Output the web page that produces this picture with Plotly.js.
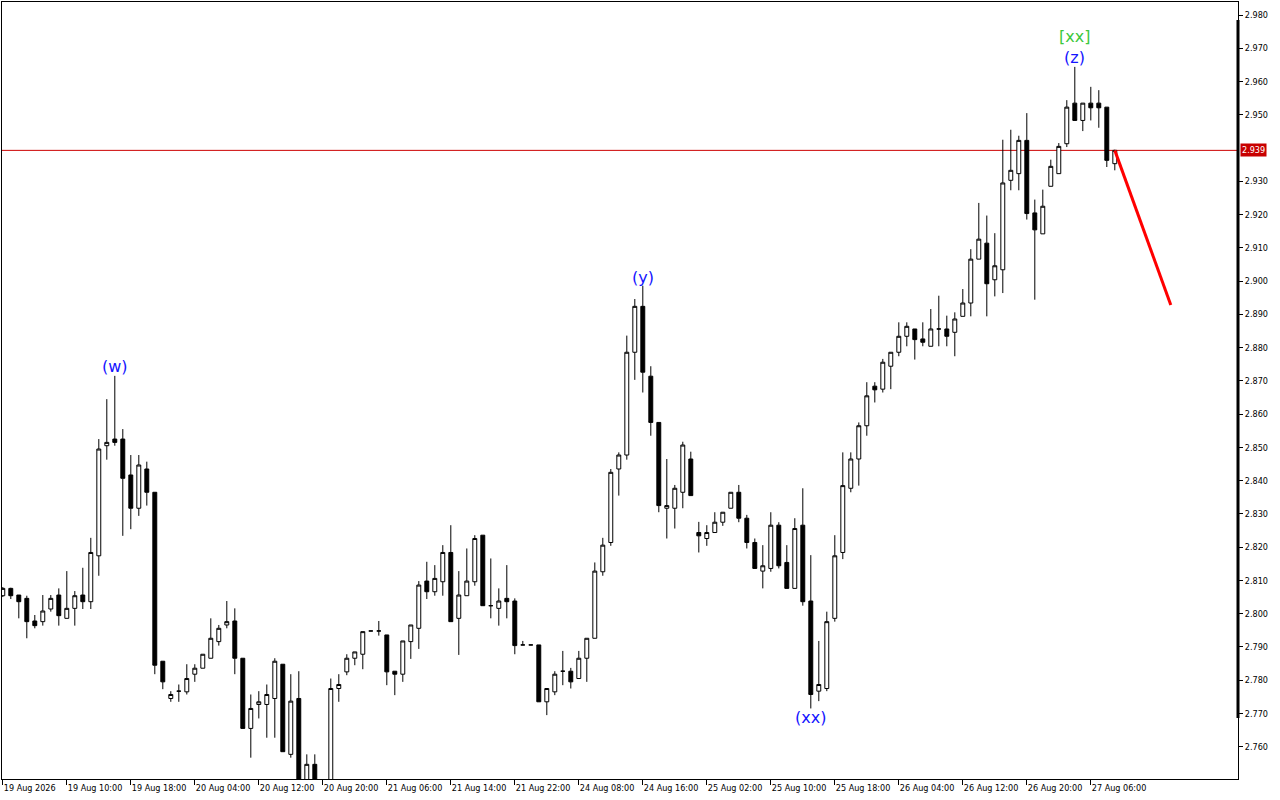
<!DOCTYPE html>
<html>
<head>
<meta charset="utf-8">
<script src="https://cdn.plot.ly/plotly-3.0.1.min.js"></script>
<style>
html,body{margin:0;padding:0;background:#fff;}
#chart{width:1280px;height:800px;}
</style>
</head>
<body>
<div id="chart"></div>
<script>
const openP = [2.8054,2.8076,2.8056,2.8046,2.7978,2.7976,2.8014,2.8056,2.7986,2.8016,
2.8056,2.8036,2.8174,2.8505,2.8525,2.8525,2.8417,2.8317,2.8435,2.8365,
2.7857,2.7745,2.7767,2.7765,2.7818,2.7836,2.7866,2.7916,2.7966,2.7978,
2.7866,2.7655,2.7727,2.7727,2.7745,2.7848,2.7577,2.7745,2.7490,2.7547,
2.7495,2.7480,2.7775,2.7825,2.7866,2.7878,2.7948,2.7948,2.7936,2.7827,
2.7818,2.7916,2.7956,2.8098,2.8066,2.8096,2.8184,2.7986,2.8054,2.8096,
2.8236,2.8024,2.8016,2.8046,2.8038,2.7906,2.7906,2.7906,2.7735,2.7765,
2.7827,2.7827,2.7805,2.7866,2.7926,2.8126,2.8214,2.8435,2.8477,2.8786,
2.8924,2.8714,2.8575,2.8317,2.8317,2.8365,2.8465,2.8244,2.8226,2.8244,
2.8275,2.8317,2.8365,2.8287,2.8214,2.8128,2.8136,2.8266,2.8154,2.8076,
2.8266,2.8038,2.7767,2.7775,2.7986,2.8184,2.8377,2.8465,2.8565,2.8684,
2.8675,2.8744,2.8786,2.8834,2.8856,2.8826,2.8804,2.8856,2.8856,2.8846,
2.8894,2.8934,2.9066,2.9114,2.9004,2.9034,2.9303,2.9323,2.9423,2.9205,
2.9142,2.9285,2.9323,2.9413,2.9535,2.9483,2.9535,2.9535,2.9523,2.9353];
const highP = [2.8080,2.8078,2.8056,2.8054,2.7996,2.8056,2.8056,2.8076,2.8128,2.8068,
2.8138,2.8228,2.8525,2.8645,2.8715,2.8555,2.8477,2.8477,2.8457,2.8365,
2.7857,2.7767,2.7787,2.7848,2.7848,2.7878,2.7986,2.7966,2.8038,2.8016,
2.7866,2.7757,2.7767,2.7787,2.7866,2.7848,2.7818,2.7827,2.7577,2.7577,
2.7500,2.7805,2.7818,2.7878,2.7885,2.7946,2.7948,2.7978,2.7936,2.7827,
2.7918,2.7966,2.8098,2.8156,2.8146,2.8206,2.8266,2.8128,2.8196,2.8236,
2.8236,2.8166,2.8076,2.8146,2.8046,2.7918,2.7906,2.7906,2.7775,2.7827,
2.7888,2.7837,2.7888,2.7926,2.8154,2.8228,2.8435,2.8485,2.8836,2.8946,
2.8986,2.8744,2.8575,2.8465,2.8387,2.8517,2.8487,2.8276,2.8266,2.8305,
2.8305,2.8365,2.8387,2.8297,2.8226,2.8206,2.8305,2.8275,2.8206,2.8287,
2.8377,2.8176,2.7918,2.8006,2.8236,2.8485,2.8485,2.8575,2.8696,2.8696,
2.8766,2.8786,2.8876,2.8876,2.8856,2.8876,2.8916,2.8956,2.8896,2.8906,
2.8976,2.9096,2.9235,2.9197,2.9144,2.9425,2.9455,2.9437,2.9505,2.9245,
2.9275,2.9365,2.9415,2.9544,2.9644,2.9535,2.9584,2.9574,2.9523,2.9395];
const lowP = [2.8050,2.8044,2.7986,2.7926,2.7956,2.7964,2.8006,2.7964,2.7986,2.7964,
2.8014,2.8014,2.8114,2.8463,2.8505,2.8234,2.8254,2.8294,2.8325,2.7818,
2.7773,2.7735,2.7735,2.7757,2.7795,2.7836,2.7866,2.7904,2.7956,2.7818,
2.7655,2.7567,2.7685,2.7627,2.7627,2.7585,2.7567,2.7470,2.7480,2.7475,
2.7465,2.7470,2.7735,2.7815,2.7845,2.7833,2.7948,2.7934,2.7785,2.7755,
2.7795,2.7864,2.7894,2.8044,2.8054,2.8054,2.7976,2.7876,2.8054,2.8084,
2.8024,2.7986,2.7964,2.7986,2.7878,2.7906,2.7906,2.7735,2.7695,2.7755,
2.7785,2.7775,2.7805,2.7795,2.7926,2.8114,2.8204,2.8355,2.8463,2.8703,
2.8665,2.8535,2.8305,2.8226,2.8256,2.8317,2.8355,2.8184,2.8204,2.8244,
2.8264,2.8317,2.8275,2.8196,2.8136,2.8076,2.8126,2.8136,2.8076,2.8076,
2.8024,2.7715,2.7737,2.7767,2.7976,2.8164,2.8365,2.8385,2.8535,2.8635,
2.8665,2.8675,2.8774,2.8804,2.8764,2.8804,2.8804,2.8804,2.8804,2.8774,
2.8894,2.8894,2.9066,2.8894,2.8954,2.8964,2.9273,2.9273,2.9185,2.8944,
2.9142,2.9285,2.9323,2.9403,2.9483,2.9451,2.9483,2.9461,2.9343,2.9333];
const closeP = [2.8076,2.8054,2.8036,2.7976,2.7964,2.8008,2.8046,2.7994,2.8016,2.8054,
2.8036,2.8184,2.8495,2.8515,2.8515,2.8407,2.8317,2.8447,2.8365,2.7845,
2.7795,2.7757,2.7767,2.7805,2.7836,2.7878,2.7926,2.7956,2.7976,2.7866,
2.7655,2.7715,2.7735,2.7757,2.7857,2.7585,2.7737,2.7480,2.7547,2.7490,
2.7475,2.7775,2.7787,2.7866,2.7885,2.7946,2.7948,2.7948,2.7825,2.7818,
2.7918,2.7966,2.8086,2.8066,2.8106,2.8184,2.7976,2.8056,2.8098,2.8226,
2.8024,2.8024,2.8038,2.8036,2.7904,2.7906,2.7906,2.7735,2.7775,2.7818,
2.7827,2.7795,2.7866,2.7926,2.8128,2.8206,2.8425,2.8477,2.8786,2.8924,
2.8726,2.8575,2.8325,2.8325,2.8377,2.8507,2.8355,2.8234,2.8244,2.8275,
2.8305,2.8365,2.8287,2.8214,2.8136,2.8144,2.8266,2.8144,2.8076,2.8256,
2.8036,2.7757,2.7787,2.7976,2.8174,2.8385,2.8465,2.8565,2.8655,2.8673,
2.8756,2.8786,2.8834,2.8864,2.8824,2.8816,2.8856,2.8856,2.8834,2.8886,
2.8934,2.9066,2.9126,2.8992,2.9046,2.9295,2.9333,2.9423,2.9203,2.9154,
2.9225,2.9345,2.9405,2.9523,2.9483,2.9535,2.9521,2.9521,2.9363,2.9393];

const xTickIdx = [0,8,16,24,32,40,48,56,64,72,80,88,96,104,112,120,128,136];
const xTickText = ["19 Aug 2026","19 Aug 10:00","19 Aug 18:00","20 Aug 04:00","20 Aug 12:00",
"20 Aug 20:00","21 Aug 06:00","21 Aug 14:00","21 Aug 22:00","24 Aug 08:00","24 Aug 16:00",
"25 Aug 02:00","25 Aug 10:00","25 Aug 18:00","26 Aug 04:00","26 Aug 12:00","26 Aug 20:00","27 Aug 06:00"];
const yTickVals = [2.76,2.77,2.78,2.79,2.80,2.81,2.82,2.83,2.84,2.85,2.86,2.87,2.88,2.89,2.90,2.91,2.92,2.93,2.95,2.96,2.97,2.98];

const currentPrice = 2.9393;
const forecastX = [139, 146];
const forecastY = [2.9393, 2.8928];

const waveLabels = ["(w)", "(y)", "(xx)", "(z)", "[xx]"];
const waveIdx = [14, 80, 101, 134, 134];
const waveY = [2.8742, 2.9012, 2.7689, 2.9671, 2.9734];
const waveColors = ["#1414ff", "#1414ff", "#1414ff", "#1414ff", "#3cc83c"];

const idx = openP.map((_, i) => i);

const traces = [{
  type: 'candlestick',
  x: idx, open: openP, high: highP, low: lowP, close: closeP,
  increasing: {line: {color: '#000000', width: 1}, fillcolor: '#ffffff'},
  decreasing: {line: {color: '#000000', width: 1}, fillcolor: '#000000'},
  whiskerwidth: 0,
  hoverinfo: 'skip',
  showlegend: false
}, {
  type: 'scatter', mode: 'lines',
  x: forecastX, y: forecastY,
  line: {color: '#ff0000', width: 3},
  hoverinfo: 'skip', showlegend: false
}];

const fnt = {family: '"DejaVu Sans Condensed", "DejaVu Sans", sans-serif', size: 9, color: '#000000'};

const annotations = waveLabels.map((t, k) => ({
  x: waveIdx[k], y: waveY[k], xref: 'x', yref: 'y', text: t, showarrow: false,
  xanchor: 'center', yanchor: 'middle',
  font: {family: '"DejaVu Sans", sans-serif', size: 16, color: waveColors[k]}
}));
annotations.push({
  x: 1.0016, xref: 'paper', y: currentPrice, yref: 'y', text: currentPrice.toFixed(3),
  showarrow: false, xanchor: 'left', yanchor: 'middle', bgcolor: '#c80000',
  borderpad: 1, font: {family: fnt.family, size: 9, color: '#ffffff'}
});

const layout = {
  width: 1280, height: 800,
  margin: {l: 2, r: 42, t: 2, b: 21},
  paper_bgcolor: '#ffffff', plot_bgcolor: '#ffffff',
  showlegend: false,
  xaxis: {
    type: 'linear', range: [-0.1, 154.4],
    tickvals: xTickIdx, ticktext: xTickText,
    ticks: 'outside', ticklen: 5, tickcolor: '#000000', tickwidth: 1,
    ticklabelposition: 'outside right',
    showline: true, mirror: true, linecolor: '#000000', linewidth: 1,
    showgrid: false, zeroline: false, tickfont: fnt,
    rangeslider: {visible: false}, fixedrange: true
  },
  yaxis: {
    side: 'right', range: [2.75029, 2.98391],
    tickvals: yTickVals, tickformat: '.3f',
    ticks: 'outside', ticklen: 4, tickcolor: '#000000', tickwidth: 1,
    showline: true, mirror: true, linecolor: '#000000', linewidth: 1,
    showgrid: false, zeroline: false, tickfont: fnt, fixedrange: true
  },
  shapes: [{
    type: 'line', xref: 'paper', x0: 0, x1: 1, yref: 'y', y0: currentPrice, y1: currentPrice,
    line: {color: '#cc0000', width: 1}, layer: 'below'
  }, {
    type: 'line', xref: 'paper', yref: 'paper',
    x0: 1.0, x1: 1.0, y0: 0.07851, y1: 0.97683,
    line: {color: '#000000', width: 3}, layer: 'above'
  }],
  annotations: annotations
};

Plotly.newPlot('chart', traces, layout, {displayModeBar: false, staticPlot: true});
</script>
</body>
</html>
